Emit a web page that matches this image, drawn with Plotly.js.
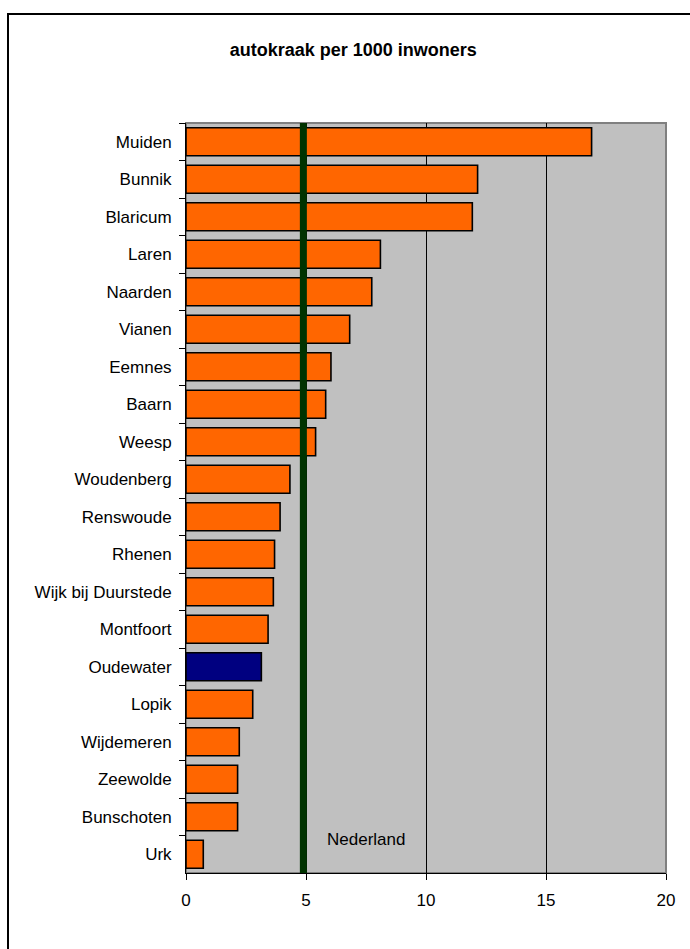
<!DOCTYPE html>
<html>
<head>
<meta charset="utf-8">
<script src="https://cdn.plot.ly/plotly-3.0.1.min.js"></script>
<style>
  html, body { margin: 0; padding: 0; background: #fff; overflow: hidden; width: 690px; height: 949px; }
  #chart { position: absolute; left: 0; top: 0; width: 690px; height: 949px; }
  .fl { position: absolute; background: #000; pointer-events: none; }
</style>
</head>
<body>
<div id="chart"></div>
<div class="fl" style="left:7px; top:13px; width:683px; height:2px;"></div>
<div class="fl" style="left:7px; top:13px; width:2px; height:936px;"></div>
<script>
// Data
const gemeenten = ["Muiden", "Bunnik", "Blaricum", "Laren", "Naarden", "Vianen", "Eemnes", "Baarn",
  "Weesp", "Woudenberg", "Renswoude", "Rhenen", "Wijk bij Duurstede", "Montfoort", "Oudewater",
  "Lopik", "Wijdemeren", "Zeewolde", "Bunschoten", "Urk"];
const autokraak = [16.9, 12.15, 11.93, 8.1, 7.74, 6.82, 6.04, 5.82,
  5.4, 4.33, 3.92, 3.69, 3.64, 3.42, 3.14,
  2.78, 2.22, 2.15, 2.15, 0.72];
const nederlandWaarde = 4.89;
const nederlandLabel = "Nederland";
const highlighted = "Oudewater";
const titel = "autokraak per 1000 inwoners";
const xTicks = [0, 5, 10, 15, 20];

const barColors = gemeenten.map(g => g === highlighted ? "#000080" : "#FF6600");

const font = "Arial, 'Liberation Sans', sans-serif";

const trace = {
  type: "bar",
  orientation: "h",
  x: autokraak,
  y: gemeenten,
  marker: { color: barColors, line: { color: "#000", width: 1.6 } },
  hoverinfo: "x+y"
};

const layout = {
  width: 690,
  height: 949,
  margin: { l: 186, r: 24, t: 123, b: 76 },
  paper_bgcolor: "rgba(0,0,0,0)",
  plot_bgcolor: "#C0C0C0",
  showlegend: false,
  bargap: 0.25,
  title: {
    text: "<b>" + titel + "</b>",
    font: { family: font, size: 18, color: "#000" },
    xref: "container", x: 0.512, xanchor: "center",
    yref: "container", y: 1 - 50 / 949, yanchor: "middle"
  },
  xaxis: {
    range: [0, 20],
    tickvals: xTicks,
    ticktext: xTicks.map(String),
    showgrid: true, gridcolor: "#000", gridwidth: 1,
    zeroline: false,
    showline: true, linecolor: "#000", linewidth: 1,
    ticks: "outside", ticklen: 6, tickcolor: "#000",
    tickfont: { family: font, size: 17, color: "#000" },
    ticklabelstandoff: 6,
    fixedrange: true
  },
  yaxis: {
    type: "category",
    categoryorder: "array",
    categoryarray: gemeenten,
    autorange: "reversed",
    showgrid: false,
    zeroline: false,
    showline: true, linecolor: "#000", linewidth: 1,
    ticks: "outside", ticklen: 6, tickcolor: "#000", tickson: "boundaries",
    tickfont: { family: font, size: 17, color: "#000" },
    ticklabelstandoff: 10,
    fixedrange: true
  },
  shapes: [
    { type: "rect", xref: "paper", yref: "paper", x0: 0, x1: 1, y0: 0, y1: 1,
      line: { color: "#808080", width: 2 }, fillcolor: "rgba(0,0,0,0)", layer: "below" },
    { type: "line", xref: "x", yref: "paper", x0: nederlandWaarde, x1: nederlandWaarde, y0: 0, y1: 1,
      line: { color: "#003300", width: 7 }, layer: "above" }
  ],
  annotations: [
    { text: nederlandLabel, xref: "x", x: nederlandWaarde + 2.6, yref: "paper", y: (873 - 839) / 750,
      xanchor: "center", yanchor: "middle", showarrow: false,
      font: { family: font, size: 17, color: "#000" } }
  ]
};

Plotly.newPlot("chart", [trace], layout, { displayModeBar: false, staticPlot: true });
</script>
</body>
</html>
